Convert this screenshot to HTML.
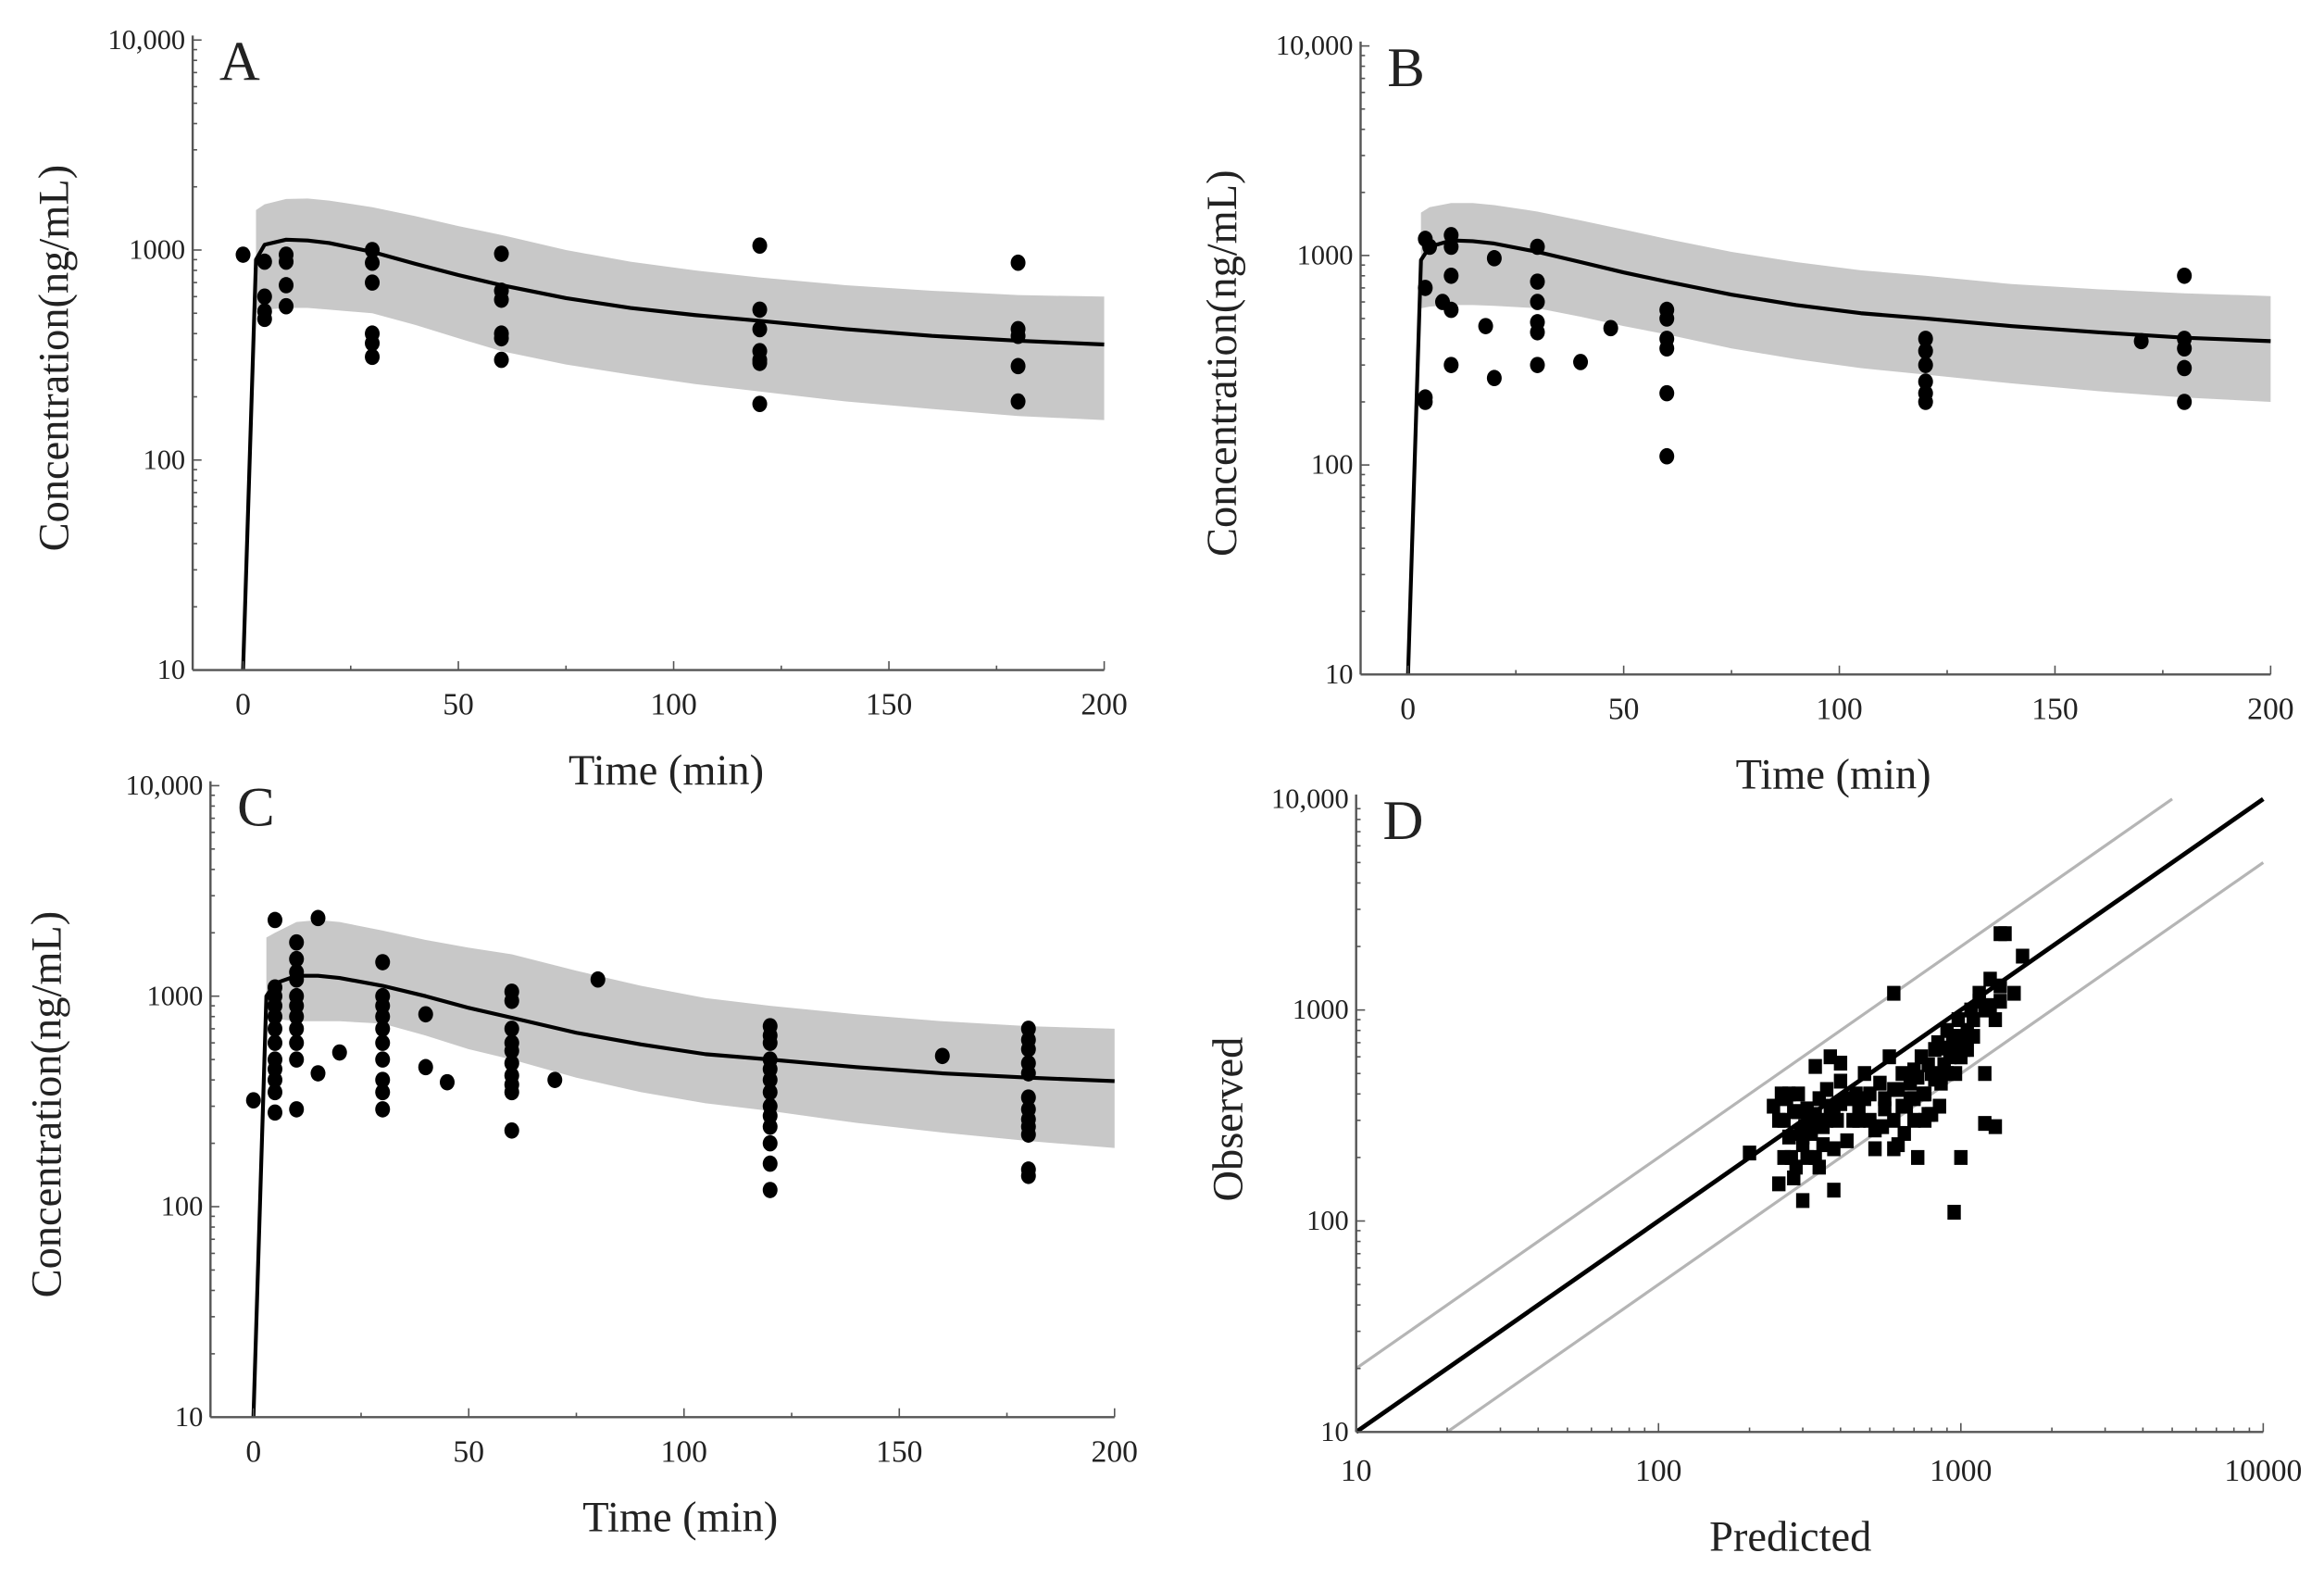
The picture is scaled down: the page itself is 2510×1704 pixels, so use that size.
<!DOCTYPE html>
<html><head><meta charset="utf-8"><style>
html,body{margin:0;padding:0;background:#fff;}
svg{display:block;}
text{font-family:"Liberation Serif",serif;fill:#222;}
</style></head><body>
<svg id="fig" width="2510" height="1704" viewBox="0 0 1568 1064.5" xmlns="http://www.w3.org/2000/svg"></svg>
<script>
// ---------- data ----------
const timeTicks = [0, 50, 100, 150, 200];
const concTickLabels = ["10", "100", "1000", "10,000"];
const concTickValues = [10, 100, 1000, 10000];
const predTickLabels = ["10", "100", "1000", "10000"];

const curveTimes = [0, 3, 5, 10, 15, 20, 30, 40, 50, 60, 75, 90, 105, 120, 140, 160, 180, 200];
const meanA  = [10, 900, 1060, 1120, 1110, 1080, 980, 860, 760, 680, 590, 530, 490, 460, 420, 390, 370, 355];
const upperA = [null, 1550, 1650, 1750, 1760, 1720, 1600, 1450, 1300, 1180, 1000, 880, 800, 740, 680, 640, 610, 600];
const lowerA = [null, 520, 520, 530, 530, 520, 500, 440, 380, 330, 285, 255, 230, 212, 190, 175, 162, 155];
const meanB  = [10, 950, 1100, 1180, 1170, 1140, 1040, 930, 830, 750, 650, 580, 530, 500, 460, 430, 405, 390];
const upperB = [null, 1600, 1700, 1780, 1780, 1740, 1620, 1470, 1330, 1200, 1040, 930, 850, 800, 730, 690, 660, 640];
const lowerB = [null, 560, 570, 580, 580, 575, 560, 510, 460, 420, 360, 320, 290, 270, 245, 225, 210, 200];
const meanC  = [10, 1000, 1150, 1250, 1250, 1220, 1120, 1000, 880, 790, 670, 590, 530, 500, 460, 430, 410, 395];
const upperC = [null, 1900, 2000, 2250, 2300, 2250, 2050, 1850, 1700, 1580, 1320, 1120, 980, 900, 820, 760, 720, 700];
const lowerC = [null, 780, 780, 760, 760, 760, 740, 650, 560, 500, 410, 350, 310, 285, 250, 225, 205, 190];

const obsTimeA = [0,5,5,5,5,10,10,10,10,30,30,30,30,30,30,60,60,60,60,60,60,120,120,120,120,120,120,120,180,180,180,180,180];
const obsConcA = [950,880,600,510,470,950,880,680,540,1000,870,700,400,360,310,960,640,580,400,380,300,1050,520,420,330,300,290,185,870,420,390,280,190];

const obsTimeB = [4,4,4,4,5,8,10,10,10,10,10,18,20,20,30,30,30,30,30,30,40,47,60,60,60,60,60,60,120,120,120,120,120,120,170,180,180,180,180,180];
const obsConcB = [1200,700,210,200,1100,600,1250,1100,800,550,300,460,970,260,1100,750,600,480,430,300,310,450,550,500,400,360,220,110,400,350,300,250,220,200,390,800,400,360,290,200];

const obsTimeC = [0,5,5,5,5,5,5,5,5,5,5,5,5,10,10,10,10,10,10,10,10,10,10,10,15,15,20,30,30,30,30,30,30,30,30,30,30,40,40,45,60,60,60,60,60,60,60,60,60,60,70,80,120,120,120,120,120,120,120,120,120,120,120,120,120,160,180,180,180,180,180,180,180,180,180,180,180,180];
const obsConcC = [320,2300,1100,1000,900,800,700,600,500,450,400,350,280,1800,1500,1300,1200,1000,900,800,700,600,500,290,2350,430,540,1450,1000,900,800,700,600,500,400,350,290,820,460,390,1050,950,700,600,550,480,420,380,350,230,400,1200,720,650,600,500,450,400,350,300,270,240,200,160,120,520,700,620,560,480,430,330,290,260,240,220,150,140];

const predD = [
 200,240,250,255,260,265,270,275,280,285,
 290,295,300,305,310,320,330,340,350,360,
 370,380,390,400,420,440,460,480,500,520,
 540,560,580,600,620,640,660,680,700,720,
 740,760,780,800,820,840,860,880,900,920,
 940,960,980,1000,1020,1050,1080,1100,1150,1200,
 1250,1300,1350,1400,1500,1600,250,270,290,300,
 320,350,380,400,450,500,550,600,650,700,
 750,800,850,900,950,1000,1100,1200,1300,260,
 280,310,340,360,420,480,520,600,640,700,
 760,820,880,940,1000,1050,1150,1250,1350,330,
 330,370,400,460,560,620,680,720,780,860,
 900,960,1000,1100,300,380,600,950,1200,1350];
const obsD = [
 210,350,150,400,300,380,250,200,330,180,
 400,260,230,280,340,300,200,380,280,420,
 350,220,300,460,380,300,350,500,400,220,
 450,380,600,300,420,500,350,450,520,480,
 600,400,550,500,650,700,450,550,800,600,
 750,500,900,700,650,800,1000,900,1200,1000,
 1400,900,1100,2300,1200,1800,300,400,330,250,
 260,230,310,360,400,300,280,220,260,300,
 400,320,350,500,700,600,750,500,280,200,
 160,200,180,300,240,380,270,420,350,380,
 300,470,550,640,600,650,1100,1050,1300,540,
 320,600,560,300,340,230,380,200,320,480,
 660,750,200,900,125,140,1200,110,290,2300];

// ---------- helpers ----------
const svg = document.getElementById('fig');
const NS = 'http://www.w3.org/2000/svg';
function mk(tag, attrs, parent) {
  const e = document.createElementNS(NS, tag);
  for (const k in attrs) e.setAttribute(k, attrs[k]);
  (parent || svg).appendChild(e);
  return e;
}
function txt(s, x, y, size, anchor, parent, rot) {
  const t = mk('text', {x: x, y: y, 'font-size': size, 'text-anchor': anchor || 'middle'}, parent);
  if (rot) t.setAttribute('transform', 'rotate(-90 ' + x + ' ' + y + ')');
  t.textContent = s;
  return t;
}
function logY(y10, y10000) { return v => y10 + (Math.log10(v) - 1) / 3 * (y10000 - y10); }

function timePanel(id, P, mean, upper, lower, ot, oc) {
  const g = mk('g', {});
  
  
  const sx = t => P.x0 + t / 200 * (P.x200 - P.x0);
  const sy = logY(P.y10, P.ytop);
  let up = [], lo = [];
  curveTimes.forEach((t, i) => { if (upper[i] != null) { up.push(sx(t) + ',' + sy(upper[i])); lo.push(sx(t) + ',' + sy(lower[i])); } });
  const band = mk('polygon', {points: up.concat(lo.reverse()).join(' '), fill: '#c8c8c8'}, g);
  
  
  ot.forEach((t, i) => {
    const c = mk('ellipse', {cx: sx(t), cy: sy(oc[i]), rx: 5, ry: 5.5, fill: '#000'}, g);
    
    
  });
  const ln = mk('polyline', {points: curveTimes.map((t, i) => sx(t) + ',' + sy(mean[i])).join(' '), fill: 'none', stroke: '#000', 'stroke-width': 2.6, 'stroke-linejoin': 'round'}, g);
  
  
  mk('line', {x1: P.ax, y1: P.ytop - 3, x2: P.ax, y2: P.y10, stroke: '#555', 'stroke-width': 1.5}, g);
  mk('line', {x1: P.ax, y1: P.y10, x2: P.x200, y2: P.y10, stroke: '#555', 'stroke-width': 1.5}, g);
  for (let d = 10; d < 10000; d *= 10) for (let m = 1; m < 10; m++) {
    const y = sy(d * m);
    mk('line', {x1: P.ax, y1: y, x2: P.ax + (m === 1 ? 6 : 3), y2: y, stroke: '#555', 'stroke-width': 1}, g);
  }
  mk('line', {x1: P.ax, y1: sy(10000), x2: P.ax + 6, y2: sy(10000), stroke: '#555', 'stroke-width': 1}, g);
  concTickValues.forEach((v, i) => txt(concTickLabels[i], P.ax - 5, sy(v) + 6, 19, 'end', g));
  for (let t = 0; t <= 200; t += 25) mk('line', {x1: sx(t), y1: P.y10, x2: sx(t), y2: P.y10 - (t % 50 ? 3 : 6), stroke: '#555', 'stroke-width': 1}, g);
  timeTicks.forEach(t => txt(String(t), sx(t), P.y10 + 30, 21, 'middle', g));
  const xt = txt('Time (min)', (P.ax + P.x200) / 2 + 12, P.y10 + 77, 29, 'middle', g);
  
  const yt = txt('Concentration(ng/mL)', P.ylx, (P.ytop + P.y10) / 2 + 2, 29, 'middle', g, true);
  
  const lt = txt(id, P.ax + 18, P.ytop + 27, 38, 'start', g);
  
}

timePanel('A', {ax: 130, x0: 164, x200: 745, ytop: 27, y10: 452, ylx: 46}, meanA, upperA, lowerA, obsTimeA, obsConcA);
timePanel('B', {ax: 918, x0: 950, x200: 1532, ytop: 31, y10: 455, ylx: 834}, meanB, upperB, lowerB, obsTimeB, obsConcB);
timePanel('C', {ax: 142, x0: 171, x200: 752, ytop: 530, y10: 956, ylx: 41}, meanC, upperC, lowerC, obsTimeC, obsConcC);

(function () {
  const g = mk('g', {});
  
  
  const X10 = 915, X10000 = 1527, Y10 = 966, Y10000 = 539;
  const sx = v => X10 + (Math.log10(v) - 1) / 3 * (X10000 - X10);
  const sy = logY(Y10, Y10000);
  function seg(fa, col, w, name) {
    let p1 = Math.max(10, 10 / fa), p2 = Math.min(10000, 10000 / fa);
    const l = mk('line', {x1: sx(p1), y1: sy(p1 * fa), x2: sx(p2), y2: sy(p2 * fa), stroke: col, 'stroke-width': w}, g);
    
    
  }
  seg(2, '#b5b5b5', 2, 'upper-2fold-line');
  seg(0.5, '#b5b5b5', 2, 'lower-2fold-line');
  predD.forEach((p, i) => {
    const r = mk('rect', {x: sx(p) - 4.5, y: sy(obsD[i]) - 5, width: 9, height: 10, fill: '#000'}, g);
    
    
  });
  seg(1, '#000', 3, 'identity-line');
  mk('line', {x1: X10, y1: Y10000 - 3, x2: X10, y2: Y10, stroke: '#555', 'stroke-width': 1.5}, g);
  mk('line', {x1: X10, y1: Y10, x2: X10000, y2: Y10, stroke: '#555', 'stroke-width': 1.5}, g);
  for (let d = 10; d < 10000; d *= 10) for (let m = 1; m < 10; m++) {
    mk('line', {x1: X10, y1: sy(d * m), x2: X10 + (m === 1 ? 6 : 3), y2: sy(d * m), stroke: '#555', 'stroke-width': 1}, g);
    mk('line', {x1: sx(d * m), y1: Y10, x2: sx(d * m), y2: Y10 - (m === 1 ? 6 : 3), stroke: '#555', 'stroke-width': 1}, g);
  }
  mk('line', {x1: X10000, y1: Y10, x2: X10000, y2: Y10 - 6, stroke: '#555', 'stroke-width': 1}, g);
  concTickValues.forEach((v, i) => txt(concTickLabels[i], X10 - 5, sy(v) + 6, 19, 'end', g));
  concTickValues.forEach((v, i) => txt(predTickLabels[i], sx(v), Y10 + 33, 21, 'middle', g));
  const xt = txt('Predicted', 1208, Y10 + 80, 29, 'middle', g);
  
  const yt = txt('Observed', 838, 755, 29, 'middle', g, true);
  
  const lt = txt('D', X10 + 18, Y10000 + 27, 38, 'start', g);
  
})();
</script>
</body></html>
